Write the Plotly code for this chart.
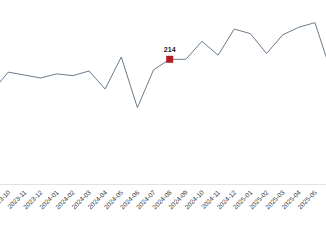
import plotly.graph_objects as go

months = ["2023-09", "2023-10", "2023-11", "2023-12", "2024-01", "2024-02", "2024-03",
          "2024-04", "2024-05", "2024-06", "2024-07", "2024-08", "2024-09", "2024-10",
          "2024-11", "2024-12", "2025-01", "2025-02", "2025-03", "2025-04", "2025-05",
          "2025-06"]
values = [159, 192, 187, 182, 189, 186, 194, 163, 218, 131, 196, 214, 214, 245,
          221, 266, 258, 224, 256, 269, 277, 192]
highlight_month = "2024-08"
highlight_value = 214

fig = go.Figure()
fig.add_trace(go.Scatter(
    x=months, y=values, mode="lines",
    line=dict(color="#6b7b8a", width=1),
    hoverinfo="skip", showlegend=False,
))
fig.add_trace(go.Scatter(
    x=[highlight_month], y=[highlight_value], mode="markers+text",
    marker=dict(symbol="square", size=7, color="#b01c22"),
    text=[str(highlight_value)], textposition="top center",
    textfont=dict(family="Liberation Sans, Arial", size=7, color="#222222", weight="bold"),
    showlegend=False,
))

fig.update_layout(
    width=326, height=245,
    margin=dict(l=0, r=0, t=0, b=61, autoexpand=False),
    paper_bgcolor="white", plot_bgcolor="white",
    xaxis=dict(
        type="category", range=[0.486, 20.684], automargin=False,
        showgrid=False, showline=True, linecolor="#e2e2e2", linewidth=1,
        ticks="", tickangle=-45, ticklabelstandoff=1,
        tickfont=dict(family="Liberation Sans, Arial", size=6.5, color="#3a3a3a"),
    ),
    yaxis=dict(range=[0, 315.8], visible=False, showgrid=False, zeroline=False,
               automargin=False),
)

fig.write_html("out.html")
